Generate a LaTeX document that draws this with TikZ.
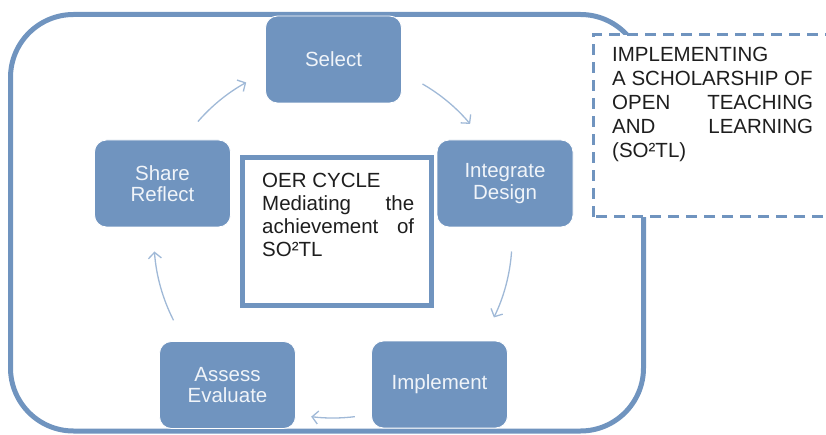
\documentclass[tikz,border=0pt]{standalone}
\usepackage{fontspec}
\setmainfont{Liberation Sans}
\usetikzlibrary{arrows.meta}
\definecolor{nodeblue}{RGB}{112,148,191}
\definecolor{arrowblue}{RGB}{160,185,215}
\definecolor{nodetext}{RGB}{240,244,249}
\definecolor{bodyink}{RGB}{30,30,30}
\begin{document}
\begin{tikzpicture}[x=1pt,y=1pt,
  cyclebox/.style={rectangle, rounded corners=12pt, fill=nodeblue, draw=white, line width=0.8pt,
    minimum width=136pt, minimum height=87pt, text=nodetext,
    font=\fontsize{20.5}{21.5}\selectfont, align=center, inner sep=0pt},
  cyclearrow/.style={draw=arrowblue, line width=1.3pt, -{Straight Barb[length=6pt,width=13pt]}},
  bodytext/.style={font=\fontsize{20.5}{23}\selectfont, text=bodyink, anchor=north west,
    inner sep=0pt, align=justify},
  frameline/.style={draw=nodeblue, line width=5pt}
]
\useasboundingbox (0,0) rectangle (826,434);
\clip (0,0) rectangle (826,434);
% outer frame
\draw[frameline, rounded corners=63pt] (10.5,3) rectangle (643.5,419.5);
% dashed box
\draw[nodeblue, line width=3pt, dash pattern=on 11pt off 7pt, fill=white] (593,217) rectangle (850,399);
\node[bodytext, text width=201pt, font=\fontsize{20.5}{24}\selectfont] (scholartext) at (612,387)
  {IMPLEMENTING\\ A SCHOLARSHIP OF\\ OPEN\hfill TEACHING\\ AND\hfill LEARNING\\ (SO²TL)};
% cycle nodes
\node[cyclebox] (select) at (333.5,374.5) {Select};
\node[cyclebox] (share) at (162.5,250.5) {Share\\Reflect};
\node[cyclebox] (integrate) at (505,250.5) {Integrate\\Design};
\node[cyclebox] (implement) at (439.5,49.5) {Implement};
\node[cyclebox] (assess) at (227.5,49) {Assess\\Evaluate};
% centre box
\node[frameline, fill=white, minimum width=189pt, minimum height=148pt, inner sep=0pt] (oer) at (337,202.5) {};
\node[bodytext, text width=152pt] (oertext) at ([xshift=22pt,yshift=-18pt]oer.north west)
  {OER CYCLE\\ Mediating\hfill the\\ achievement\hfill of\\ SO²TL};
% arrows
\coordinate (c) at (333,195);
\draw[cyclearrow] ([shift={(139:179)}]c) arc[start angle=139, end angle=119, radius=179];
\draw[cyclearrow] ([shift={(60:179)}]c) arc[start angle=60, end angle=40, radius=179];
\draw[cyclearrow] ([shift={(-4:179)}]c) arc[start angle=-4, end angle=-26, radius=179];
\draw[cyclearrow] ([shift={(-83:179)}]c) arc[start angle=-83, end angle=-97, radius=179];
\draw[cyclearrow] ([shift={(207:179)}]c) arc[start angle=207, end angle=184, radius=179];
\end{tikzpicture}
\end{document}
